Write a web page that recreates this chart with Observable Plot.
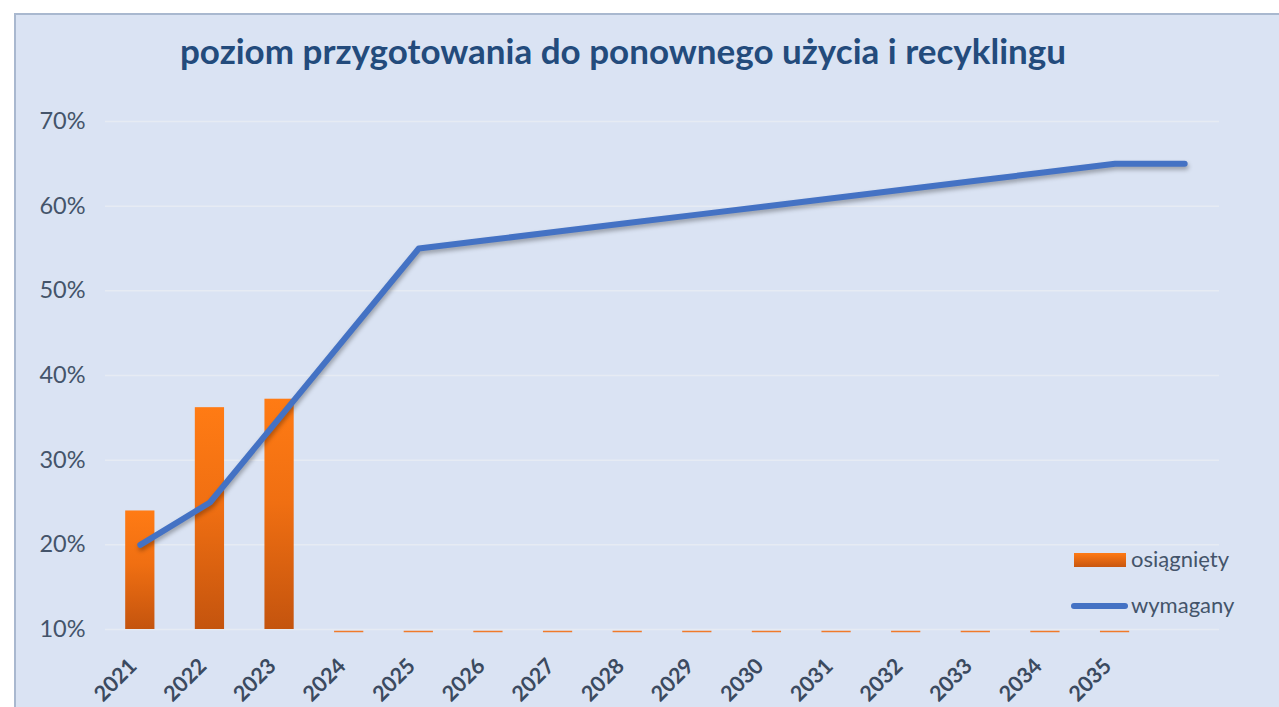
<!DOCTYPE html>
<html>
<head>
<meta charset="utf-8">
<script src="https://cdn.jsdelivr.net/npm/d3@7"></script>
<script src="https://cdn.jsdelivr.net/npm/@observablehq/plot@0.6"></script>
<style>
  html, body { margin: 0; padding: 0; background: #ffffff; }
  body { width: 1279px; height: 707px; overflow: hidden; position: relative; font-family: Lato, "Open Sans", sans-serif; }
  #frame { position: absolute; left: 14px; top: 13px; width: 1300px; height: 720px; background: #dae3f3; border: 2px solid #a9b8cf; box-sizing: border-box; }
  #title { position: absolute; left: 0; width: 1246px; top: 29px; text-align: center; font-weight: 700; font-size: 35px; color: #234b7c; white-space: nowrap; }
  #chart { position: absolute; left: 0; top: 0; }
  .leg { position: absolute; font-size: 22px; color: #44546a; line-height: 24px; }
  .sw-bar { position: absolute; width: 52px; height: 14px; background: linear-gradient(#ff7a14, #c8560f); }
  .sw-line { position: absolute; width: 57px; height: 6px; border-radius: 3px; background: #4472c4; }
</style>
</head>
<body>
<div id="frame"></div>
<div id="chart"></div>
<div id="title">poziom przygotowania do ponownego użycia i recyklingu</div>
<div class="sw-bar" style="left:1074px; top:553px;"></div>
<div class="leg" style="left:1131px; top:547px;">osiągnięty</div>
<div class="sw-line" style="left:1071px; top:603px;"></div>
<div class="leg" style="left:1131px; top:593px;">wymagany</div>
<script>
const years = ["2021","2022","2023","2024","2025","2026","2027","2028","2029","2030","2031","2032","2033","2034","2035",""];
const achieved = [0.24, 0.362, 0.372, 0, 0, 0, 0, 0, 0, 0, 0, 0, 0, 0, 0];
const required = [0.20, 0.25, 0.35, 0.45, 0.55, 0.56, 0.57, 0.58, 0.59, 0.60, 0.61, 0.62, 0.63, 0.64, 0.65, 0.65];
const yTicks = [0.1, 0.2, 0.3, 0.4, 0.5, 0.6, 0.7];

const barData = achieved.map((v, i) => ({year: years[i], value: v}));
const lineData = required.map((v, i) => ({year: years[i], value: v}));

const chart = Plot.plot({
  width: 1279,
  height: 707,
  marginLeft: 105,
  marginRight: 60,
  marginTop: 121,
  marginBottom: 78,
  style: {background: "transparent", fontFamily: "Lato, 'Open Sans', sans-serif", overflow: "visible"},
  x: {type: "band", domain: years, paddingInner: 0.58, paddingOuter: 0.29, round: false, label: null},
  y: {domain: [0.1, 0.7], clamp: true, label: null},
  marks: [
    Plot.ruleY(yTicks, {stroke: "#e6ebf3", strokeWidth: 1.5}),
    Plot.axisY(yTicks, {tickSize: 0, tickPadding: 20, tickFormat: d => Math.round(d * 100) + "%", fontSize: 23.5, fill: "#44546a", label: null}),
    Plot.axisX(years.slice(0, 15), {tickSize: 0, tickPadding: 33, dx: -7, tickRotate: -45, fontSize: 21.5, fontWeight: "bold", fill: "#3b4a60", label: null}),
    Plot.barY(barData.filter(d => d.value > 0), {x: "year", y: "value", fill: "url(#barGrad)", style: "filter: drop-shadow(1px 1px 1px rgba(0,0,0,0.15))"}),
    Plot.tickY(barData.filter(d => d.value === 0), {x: "year", y: () => 0.1, stroke: "#f07a2a", strokeWidth: 1.5, dy: 2}),
    Plot.line(lineData, {x: "year", y: "value", stroke: "#4472c4", strokeWidth: 6, strokeLinecap: "round", strokeLinejoin: "round", className: "reqline"})
  ]
});

const svgNS = "http://www.w3.org/2000/svg";
const defs = document.createElementNS(svgNS, "defs");
defs.innerHTML = '<linearGradient id="barGrad" x1="0" y1="0" x2="0" y2="1"><stop offset="0" stop-color="#ff7b14"/><stop offset="0.45" stop-color="#f06f12"/><stop offset="1" stop-color="#c4540e"/></linearGradient>';
chart.insertBefore(defs, chart.firstChild);
chart.querySelectorAll(".reqline path").forEach(p => p.style.filter = "drop-shadow(1px 3px 2px rgba(0,0,0,0.3))");
document.getElementById("chart").appendChild(chart);
</script>
</body>
</html>
